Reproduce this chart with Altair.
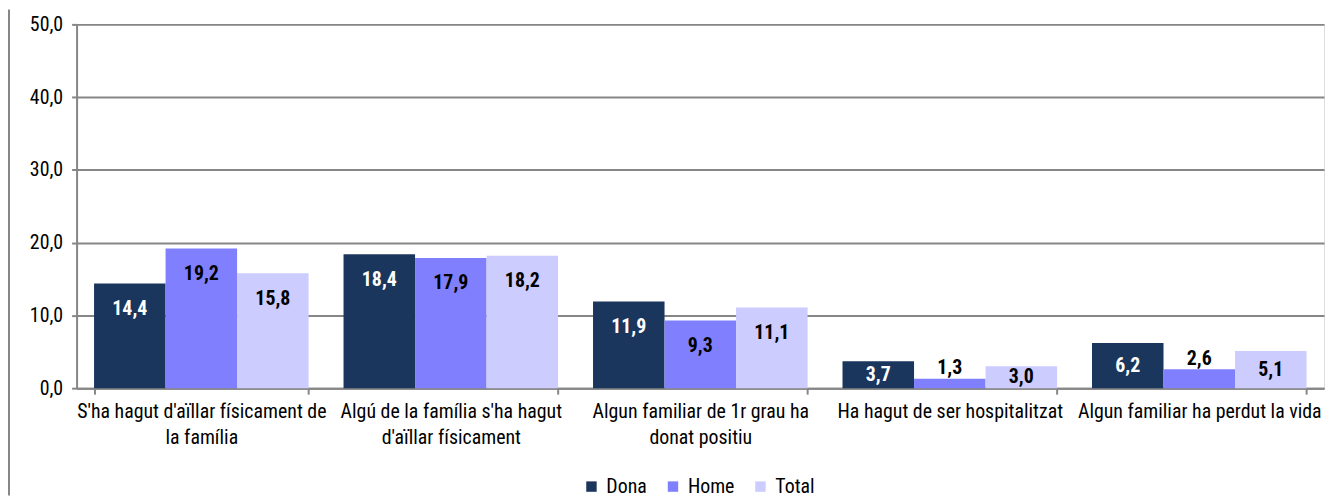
import json
import altair as alt
import pandas as pd

categories = [
    "S'ha hagut d'aïllar físicament de la família",
    "Algú de la família s'ha hagut d'aïllar físicament",
    "Algun familiar de 1r grau ha donat positiu",
    "Ha hagut de ser hospitalitzat",
    "Algun familiar ha perdut la vida",
]
label_lines = [
    ["S'ha hagut d'aïllar físicament de", "la família"],
    ["Algú de la família s'ha hagut", "d'aïllar físicament"],
    ["Algun familiar de 1r grau ha", "donat positiu"],
    ["Ha hagut de ser hospitalitzat"],
    ["Algun familiar ha perdut la vida"],
]
series = ["Dona", "Home", "Total"]
dona = [14.4, 18.4, 11.9, 3.7, 6.2]
home = [19.2, 17.9, 9.3, 1.3, 2.6]
total = [15.8, 18.2, 11.1, 3.0, 5.1]
colors = ["#1B365D", "#8080FF", "#CCCCFF"]
y_ticks = [0, 10, 20, 30, 40, 50]

rows = []
for i, c in enumerate(categories):
    for s, vals in zip(series, [dona, home, total]):
        rows.append({"cat": c, "serie": s, "v": vals[i]})
df = pd.DataFrame(rows)

FONT = "Liberation Sans Narrow, Arial Narrow, Roboto Condensed, Liberation Sans"

# label expression for wrapped category labels
expr = "datum.label"
for c, lines in zip(categories[::-1], label_lines[::-1]):
    expr = f"datum.label == {json.dumps(c)} ? {json.dumps(lines)} : ({expr})"

x = alt.X(
    "cat:N",
    sort=categories,
    title=None,
    scale=alt.Scale(paddingInner=0.14, paddingOuter=0.07),
    axis=alt.Axis(
        labelAngle=0,
        labelExpr=expr,
        labelFont=FONT,
        labelFontSize=20,
        labelColor="#000000",
        labelLineHeight=26,
        labelPadding=8,
        labelLimit=400,
        tickBand="extent",
        tickSize=6,
        tickColor="#868686",
        tickWidth=2,
        domainColor="#868686",
        domainWidth=2,
        grid=False,
    ),
)
xoff = alt.XOffset("serie:N", sort=series, scale=alt.Scale(paddingInner=0, paddingOuter=0))
y = alt.Y(
    "v:Q",
    title=None,
    scale=alt.Scale(domain=[0, 50], nice=False),
    axis=alt.Axis(
        values=y_ticks,
        labelExpr="replace(format(datum.value, '.1f'), '.', ',')",
        labelFont=FONT,
        labelFontSize=20,
        labelColor="#000000",
        labelPadding=9,
        tickSize=5,
        tickColor="#868686",
        tickWidth=2,
        domainColor="#868686",
        domainWidth=2,
        gridColor="#868686",
        gridWidth=2,
    ),
)

base = alt.Chart(df)

bars = base.mark_bar(stroke=None).encode(
    x=x,
    xOffset=xoff,
    y=y,
    color=alt.Color(
        "serie:N",
        sort=series,
        scale=alt.Scale(domain=series, range=colors),
        legend=alt.Legend(
            title=None,
            orient="none",
            direction="horizontal",
            legendX=508,
            legendY=455,
            symbolType="square",
            symbolSize=110,
            symbolStrokeWidth=0,
            labelFont=FONT,
            labelFontSize=20,
            labelColor="#000000",
            columnPadding=16,
            labelOffset=5,
        ),
    ),
)

labels = (
    base.transform_calculate(
        ly="datum.v < 3 ? datum.v + 1.4 : max(datum.v - 3.5, datum.v / 2)",
        vtxt="replace(format(datum.v, '.1f'), '.', ',')",
    )
    .mark_text(font=FONT, fontSize=20, fontWeight="bold", baseline="middle")
    .encode(
        x=alt.X("cat:N", sort=categories),
        xOffset=xoff,
        y=alt.Y("ly:Q"),
        text=alt.Text("vtxt:N"),
        color=alt.condition(
            "datum.serie == 'Dona'", alt.value("#FFFFFF"), alt.value("#000000")
        ),
    )
)

border = alt.Chart(pd.DataFrame({"a": [0]})).mark_rule(
    color="#868686", strokeWidth=2
).encode(x=alt.value(-68), y=alt.value(-15), y2=alt.value(474))

chart = (
    alt.layer(bars, labels, border)
    .properties(
        width=1255,
        height=366,
        autosize=alt.AutoSizeParams(type="none"),
        padding={"left": 69, "top": 15, "right": 3, "bottom": 108},
    )
    .configure_view(stroke=None)
    .configure(background="#FFFFFF")
)

chart.save("out.html", embed_options={"renderer": "svg", "actions": False})
